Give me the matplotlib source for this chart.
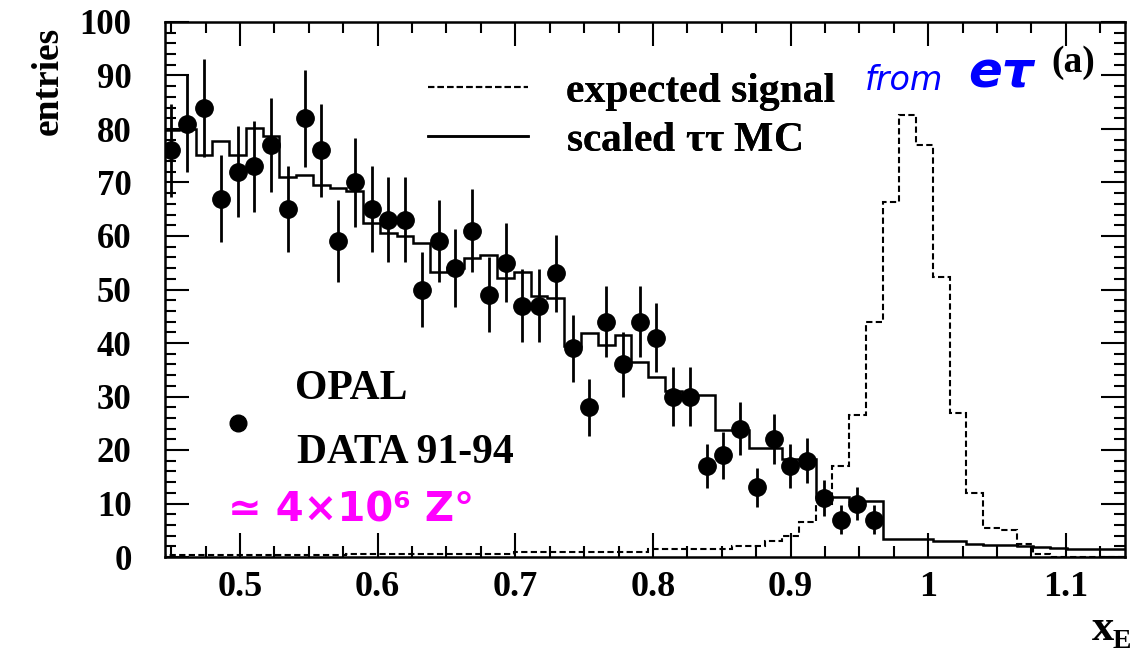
import numpy as np
import matplotlib
matplotlib.use("Agg")
import matplotlib.pyplot as plt
from matplotlib.lines import Line2D
from matplotlib.ticker import MultipleLocator

# binning of x_E
bin_lo = 0.4435
bin_w = 0.01217

# OPAL data 91-94, entries per bin (first 43 bins)
data_counts = [76, 81, 84, 67, 72, 73, 77, 65, 82, 76,
               59, 70, 65, 63, 63, 50, 59, 54, 61, 49,
               55, 47, 47, 53, 39, 28, 44, 36, 44, 41,
               30, 30, 17, 19, 24, 13, 22, 17, 18, 11,
               7, 10, 7]

# scaled tautau MC
mc_counts = [79.8, 80, 75.1, 77.8, 75.1, 80.1, 78.6, 71.1, 71.4, 69.5,
             69, 68.5, 62.4, 60.5, 60, 58.7, 53.3, 54, 55.8, 56.4,
             52.1, 53.3, 48.7, 48.4, 39.5, 41.8, 39.6, 41.5, 36.5, 33.7,
             31, 30.3, 30.3, 23.7, 23.7, 20.3, 20.3, 18.3, 18.3, 11.3,
             11.3, 10.5, 10.5, 3.3, 3.3, 3.3, 3.0, 3.0, 2.5, 2.2,
             2.2, 2.0, 1.8, 1.6, 1.5, 1.5, 1.5, 1.5]

# expected signal from e-tau
sig_counts = [0.3, 0.3, 0.3, 0.3, 0.3, 0.3, 0.3, 0.3, 0.3, 0.3,
              0.3, 0.6, 0.6, 0.6, 0.6, 0.6, 0.6, 0.6, 0.6, 0.6,
              0.6, 1.0, 1.0, 1.0, 1.0, 1.0, 1.0, 1.0, 1.0, 1.5,
              1.5, 1.5, 1.5, 1.5, 2.0, 2.0, 3.0, 4.0, 6.6, 10,
              17, 26.5, 44, 66.4, 82.6, 77, 52.4, 26.9, 12, 5.5,
              5.0, 2.5, 0.5, 0, 0, 0, 0, 0]

xticks = [0.5, 0.6, 0.7, 0.8, 0.9, 1.0, 1.1]
xtick_labels = ["0.5", "0.6", "0.7", "0.8", "0.9", "1", "1.1"]
yticks = [0, 10, 20, 30, 40, 50, 60, 70, 80, 90, 100]

serif = "Liberation Serif"
plt.rcParams["font.family"] = serif
plt.rcParams["font.weight"] = "bold"

fig = plt.figure(figsize=(11.3, 6.55), dpi=100)
ax = fig.add_axes([165 / 1130, 1 - 557 / 655, 960 / 1130, 535 / 655])

edges = bin_lo + bin_w * np.arange(len(mc_counts) + 1)
centers = bin_lo + bin_w * (np.arange(len(data_counts)) + 0.5)

ax.stairs(sig_counts, edges, color="black", lw=1.5, linestyle=(0, (3, 1.6)))
ax.stairs(mc_counts, edges, color="black", lw=1.8)
ax.errorbar(centers, data_counts, yerr=np.sqrt(data_counts), fmt="o",
            color="black", ms=12.5, elinewidth=2, capsize=0)

ax.set_xlim(0.4455, 1.143)
ax.set_ylim(0, 100)
ax.set_xticks(xticks)
ax.set_xticklabels(xtick_labels)
ax.set_yticks(yticks)
ax.xaxis.set_minor_locator(MultipleLocator(0.025))
ax.yaxis.set_minor_locator(MultipleLocator(2))
ax.tick_params(which="both", direction="in", top=True, right=True, width=1.5)
ax.tick_params(which="major", length=17)
ax.tick_params(which="minor", length=8)
ax.tick_params(axis="x", which="major", labelsize=26, pad=10)
ax.tick_params(axis="y", which="major", labelsize=25, pad=24)
for s in ax.spines.values():
    s.set_linewidth(1.8)

# axis titles
fig.text(48 / 1130, 1 - 81 / 655, "entries", rotation=90, ha="center",
         va="center", fontsize=27, fontweight="bold")
fig.text(1103 / 1130, 1 - 629 / 655, "x", ha="center", va="center",
         fontsize=32, fontweight="bold")
fig.text(1122 / 1130, 1 - 641 / 655, "E", ha="center", va="center",
         fontsize=20, fontweight="bold")

# legend for the curves
handles = [Line2D([], [], color="black", lw=1.5, linestyle=(0, (3, 1.6))),
           Line2D([], [], color="black", lw=1.8)]
leg = ax.legend(handles, ["expected signal", "scaled $\\mathregular{\\tau\\tau}$ MC"],
                loc="upper left", bbox_to_anchor=(0.274, 0.905), frameon=False,
                fontsize=30, handlelength=2.4, handletextpad=0.9,
                labelspacing=0.25, borderpad=0, borderaxespad=0)
ax.add_artist(leg)

# data key: dot with two text lines
ax.plot([(238 - 165) / 960], [(557 - 423) / 535], "o", color="black", ms=12,
        transform=ax.transAxes, clip_on=False)
ax.text((295 - 165) / 960, (557 - 389) / 535, "OPAL", transform=ax.transAxes,
        ha="left", va="center", fontsize=30, fontweight="bold")
ax.text((297 - 165) / 960, (557 - 453) / 535, "DATA 91-94",
        transform=ax.transAxes, ha="left", va="center", fontsize=30,
        fontweight="bold")

ax.text((1095 - 165) / 960, (557 - 45) / 535, "(a)", transform=ax.transAxes,
        ha="right", va="top", fontsize=27, fontweight="bold")

# handwritten notes
ax.text((865 - 165) / 960, (557 - 81) / 535, "from", transform=ax.transAxes,
        ha="left", va="center", fontsize=24, color="#0000ff",
        family="DejaVu Sans", style="italic", fontweight="normal")
ax.text((968 - 165) / 960, (557 - 74) / 535, "e\u03c4", transform=ax.transAxes,
        ha="left", va="center", fontsize=36, color="#0000ff",
        family="DejaVu Sans", style="italic", fontweight="bold")
ax.text((228 - 165) / 960, (557 - 510) / 535, "\u2243 4\u00d710\u2076 Z\u00b0",
        transform=ax.transAxes, ha="left", va="center", fontsize=29,
        color="#ff00ff", family="DejaVu Sans", fontweight="bold")

fig.savefig("out.png", dpi=100)
